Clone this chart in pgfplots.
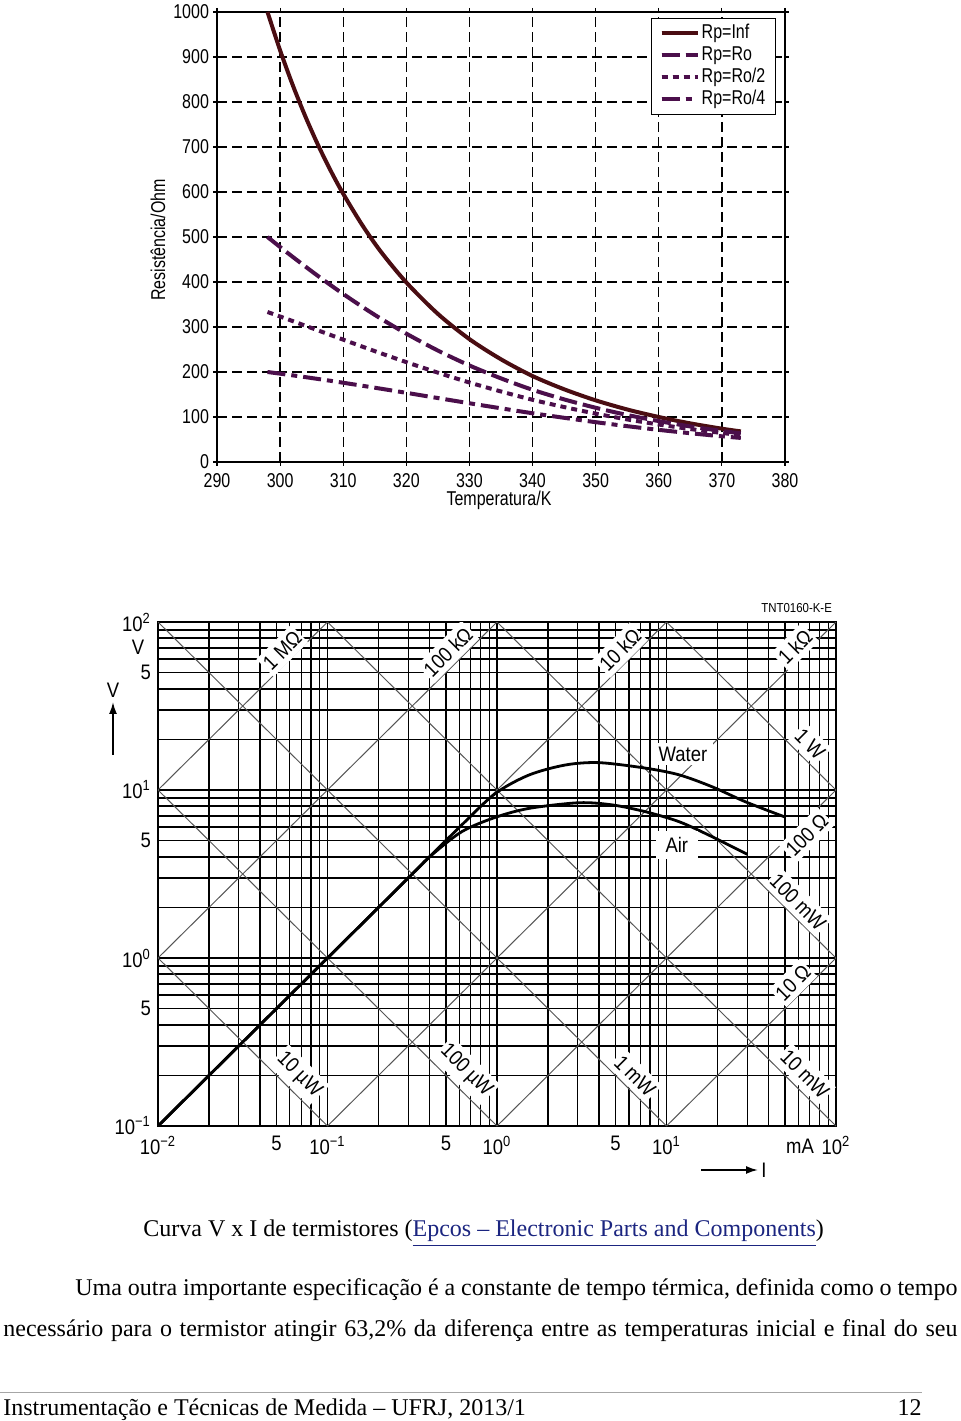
\documentclass[border=0pt]{standalone}
\usepackage{fontspec}
\setmainfont{Liberation Serif}
\newfontfamily\cf[FakeStretch=0.88]{Liberation Sans}
\newfontfamily\cfn[FakeStretch=0.8]{Liberation Sans}
\usepackage{pgfplots}
\usepackage{pgfplotstable}
\pgfplotsset{compat=1.18}
\usetikzlibrary{arrows.meta}
\definecolor{rinf}{HTML}{4A0D12}
\definecolor{rro}{HTML}{4B0F4B}
\definecolor{linkblue}{HTML}{1B2580}
\definecolor{diag}{HTML}{555555}

\pgfplotstableread{
T Rinf Ro Ro2 Ro4
298 1000 500 333.3 200
300 914.7 477.7 323.3 196.3
302 837.6 455.8 313.1 192.5
304 767.9 434.4 302.8 188.6
306 704.8 413.4 292.5 184.5
308 647.7 393.1 282.2 180.4
310 596.0 373.4 271.9 176.1
313 526.8 345.0 256.5 169.5
316 466.7 318.2 241.4 162.8
320 399.0 285.2 221.9 153.7
325 329.1 247.6 198.5 142.1
330 273.0 214.5 176.6 130.5
335 228.2 185.8 156.7 119.3
340 191.0 160.4 138.2 108.3
345 161.6 139.1 122.1 98.2
350 137.0 120.5 107.5 88.5
355 116.7 104.5 94.6 79.6
360 100.0 90.9 83.3 71.4
365 85.8 79.0 73.2 63.9
370 74.0 68.9 64.5 57.1
373 68.0 63.7 59.9 53.5
}\rtable

\newcommand\tfa{\cfn\fontsize{10}{11}\selectfont}
\newcommand\tf{\cf\fontsize{10.5}{12}\selectfont}

\begin{document}
\begin{tikzpicture}
\useasboundingbox (0,0) rectangle (480pt,710.5pt);

% ---------------- top chart ----------------
\begin{axis}[
  at={(108.5pt,479.5pt)}, anchor=south west, scale only axis,
  width=284pt, height=225pt,
  xmin=290, xmax=380, ymin=0, ymax=1000,
  xtick={290,300,...,380}, ytick={0,100,...,1000},
  grid=major,
  major grid style={black, line width=0.7pt, dash pattern=on 5pt off 2.5pt},
  axis line style={black, line width=0.8pt},
  tick align=outside, major tick length=2pt,
  tick style={black, line width=0.6pt},
  ticklabel style={font=\tfa},
  yticklabel style={xshift=1.5pt},
  /pgf/number format/assume math mode=true,
  /pgf/number format/1000 sep={},
  legend style={at={(0.984,0.987)}, anchor=north east, draw=black,
    line width=0.6pt, font=\tfa,
    inner xsep=4pt, inner ysep=2pt, row sep=0pt,
    nodes={inner sep=1pt, text height=7pt, text depth=2pt}},
  legend cell align=left,
  legend image code/.code={\draw[#1] (0pt,0pt) -- (15pt,0pt); \path (0pt,0pt) -- (18pt,0pt);},
]
\addplot[rinf, line width=2pt, smooth] table[x=T, y=Rinf] {\rtable};
\addlegendentry{Rp=Inf}
\addplot[rro, line width=2pt, smooth, dash pattern=on 9pt off 3pt] table[x=T, y=Ro] {\rtable};
\addlegendentry{Rp=Ro}
\addplot[rro, line width=2pt, smooth, dash pattern=on 3pt off 2.5pt] table[x=T, y=Ro2] {\rtable};
\addlegendentry{Rp=Ro/2}
\addplot[rro, line width=2pt, smooth, dash pattern=on 9pt off 3pt on 3pt off 3pt] table[x=T, y=Ro4] {\rtable};
\addlegendentry{Rp=Ro/4}
\end{axis}

% ---------------- bottom chart ----------------
\begin{axis}[
  at={(79pt,147.5pt)}, anchor=south west, scale only axis,
  width=339pt, height=252pt,
  xmode=log, ymode=log,
  xmin=0.01, xmax=100, ymin=0.1, ymax=100,
  xtick={0.01,0.1,1,10,100},
  xticklabels={10\textsuperscript{−2},10\textsuperscript{−1},10\textsuperscript{0},10\textsuperscript{1},10\textsuperscript{2}},
  extra x ticks={0.05,0.5,5}, extra x tick labels={5,5,5},
  ytick={0.1,1,10,100},
  yticklabels={10\textsuperscript{−1},10\textsuperscript{0},10\textsuperscript{1},10\textsuperscript{2}},
  extra y ticks={0.5,5,50}, extra y tick labels={5,5,5},
  extra tick style={grid=none},
  grid=both,
  major x grid style={black, line width=0.6pt},
  minor x grid style={black, line width=0.6pt},
  major y grid style={black, line width=0.85pt},
  minor y grid style={black, line width=0.85pt},
  major tick length=0pt, minor tick length=0pt,
  axis line style={black, line width=1pt},
  ticklabel style={font=\tf},
  xticklabel style={yshift=-1.5pt},
]
% constant resistance lines
\addplot[diag, line width=0.5pt] coordinates {(0.01,10) (0.1,100)};
\addplot[diag, line width=0.5pt] coordinates {(0.01,1) (1,100)};
\addplot[diag, line width=0.5pt] coordinates {(0.01,0.1) (10,100)};
\addplot[diag, line width=0.5pt] coordinates {(0.1,0.1) (100,100)};
\addplot[diag, line width=0.5pt] coordinates {(1,0.1) (100,10)};
\addplot[diag, line width=0.5pt] coordinates {(10,0.1) (100,1)};
% constant power lines
\addplot[diag, line width=0.5pt] coordinates {(0.01,1) (0.1,0.1)};
\addplot[diag, line width=0.5pt] coordinates {(0.01,10) (1,0.1)};
\addplot[diag, line width=0.5pt] coordinates {(0.01,100) (10,0.1)};
\addplot[diag, line width=0.5pt] coordinates {(0.1,100) (100,0.1)};
\addplot[diag, line width=0.5pt] coordinates {(1,100) (100,1)};
\addplot[diag, line width=0.5pt] coordinates {(10,100) (100,10)};
% curves
\addplot[black, line width=1.4pt, smooth] coordinates {
 (0.01,0.1) (0.1,1) (0.3,3) (0.62,6.2) (0.98,9.55) (1.55,12.3) (2.54,14.1)
 (4.0,14.55) (7.5,13.5) (11.9,12.3) (18.6,10.45) (29.3,8.5) (50.5,6.88)};
\addplot[black, line width=1.4pt, smooth] coordinates {
 (0.01,0.1) (0.1,1) (0.3,3) (0.4,4.0) (0.62,5.65) (0.98,6.88) (1.55,7.78)
 (3.05,8.4) (4.8,8.15) (7.5,7.43) (11.9,6.47) (18.6,5.27) (30,4.14)};
% labels
\tikzset{rl/.style={rotate=45, fill=white, inner xsep=1pt, inner ysep=2.5pt, font=\tf},
         pl/.style={rotate=-45, fill=white, inner xsep=1pt, inner ysep=2.5pt, font=\tf}}
\node[rl] at (axis cs:0.0541,67.5) {1 MΩ};
\node[rl] at (axis cs:0.514,66.3) {100 kΩ};
\node[rl] at (axis cs:5.32,68.1) {10 kΩ};
\node[rl] at (axis cs:57.3,71) {1 kΩ};
\node[rl] at (axis cs:67.4,5.4) {100 Ω};
\node[rl] at (axis cs:55.8,0.71) {10 Ω};
\node[pl] at (axis cs:70.3,18.8) {1 W};
\node[pl] at (axis cs:59.7,2.15) {100 mW};
\node[pl] at (axis cs:65.6,0.204) {10 mW};
\node[pl] at (axis cs:6.52,0.1984) {1 mW};
\node[pl] at (axis cs:0.657,0.2126) {100 µW};
\node[pl] at (axis cs:0.0679,0.201) {10 µW};
\node[fill=white, inner xsep=3pt, inner ysep=2pt, font=\tf] at (axis cs:12.5,16.4) {Water};
\node[fill=white, inner xsep=5pt, inner ysep=3pt, font=\tf] at (axis cs:11.5,4.71) {Air};
\end{axis}

% ---------------- texts (pixel coordinates) ----------------
\begin{scope}[x=0.5pt, y=-0.5pt, shift={(0pt,710.5pt)}]
\node[rotate=90, font=\tfa] at (158,240) {Resistência/Ohm};
\node[font=\tfa] at (499,500) {Temperatura/K};

\node[font=\tf] at (138,647) {V};
\node[font=\tf] at (113,690) {V};
\draw[line width=0.9pt, -{Latex[length=6pt,width=4pt]}] (113,755) -- (113,702);
\draw[line width=0.9pt, -{Latex[length=6pt,width=4pt]}] (701,1170) -- (758,1170);
\node[font=\tf] at (764,1170) {I};
\node[font=\tf] at (800,1146) {mA};
\node[anchor=east, font=\cf\fontsize{6.5}{7}\selectfont] at (839,608) {TNT0160-K-E};

\node[anchor=base west, inner sep=0pt, font=\fontsize{12}{14}\selectfont] at (143,1237)
  {Curva V x I de termistores (\textcolor{linkblue}{\underline{Epcos – Electronic Parts and Components}})};
\node[anchor=base west, inner sep=0pt, font=\fontsize{12}{14}\selectfont] at (75,1296)
  {\makebox[441pt][s]{Uma outra importante especificação é a constante de tempo térmica, definida como o tempo}};
\node[anchor=base west, inner sep=0pt, font=\fontsize{12}{14}\selectfont] at (3,1337)
  {\makebox[477pt][s]{necessário para o termistor atingir 63,2\% da diferença entre as temperaturas inicial e final do seu}};
\draw[black!35, line width=0.5pt] (0,1393) -- (922,1393);
\node[anchor=base west, inner sep=0pt, font=\fontsize{12}{14}\selectfont] at (3,1416)
  {Instrumentação e Técnicas de Medida – UFRJ, 2013/1};
\node[anchor=base east, inner sep=0pt, font=\fontsize{12}{14}\selectfont] at (922,1416) {12};
\end{scope}
\end{tikzpicture}
\end{document}
